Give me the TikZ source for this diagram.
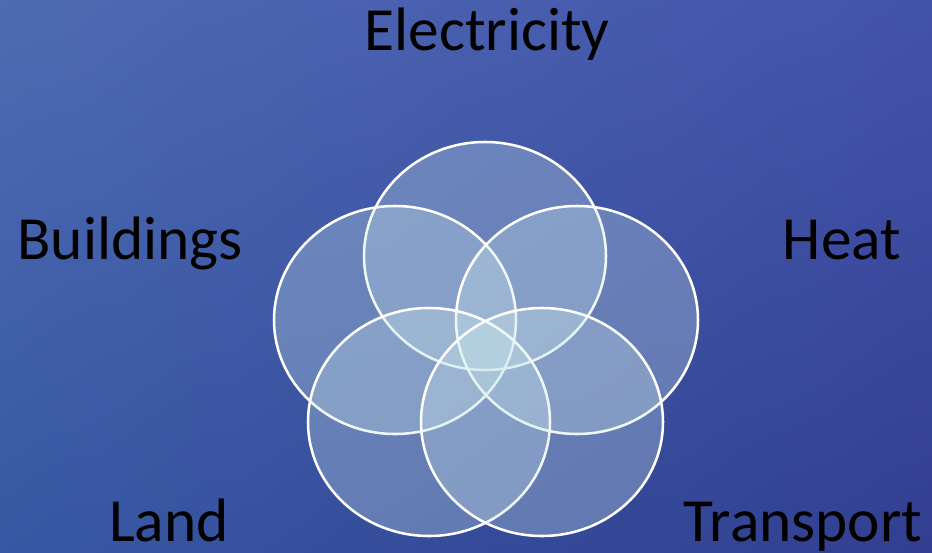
\documentclass[tikz,border=0pt]{standalone}
\usepackage{fontspec}
\setmainfont{Carlito}

\definecolor{petalfill}{RGB}{205,232,236}

% sea backdrop: four corner colours, mixed bilinearly
\pgfdeclarefunctionalshading{seawater}{\pgfpoint{0bp}{0bp}}{\pgfpoint{100bp}{100bp}}{}{
  100 div exch 100 div
  2 copy mul
  2 index 0.197 mul 2 index -0.019 mul add 1 index -0.079 mul add 0.176 add
  3 index 0.157 mul 3 index -0.196 mul add 2 index 0.000 mul add 0.353 add
  4 index 0.098 mul 4 index -0.176 mul add 3 index 0.137 mul add 0.647 add
  6 3 roll pop pop pop
}

\tikzset{
  petal/.style={draw=white, line width=1.9pt, fill=petalfill, fill opacity=0.3},
  sector/.style={font=\fontsize{46}{50}\selectfont, text=black, anchor=base, inner sep=0pt}
}

\begin{document}
\begin{tikzpicture}[x=0.75pt, y=-0.75pt]

    \useasboundingbox (0,0) rectangle (932,553);
    \shade[shading=seawater] (0,0) rectangle (932,553);

    % five overlapping petals
    \foreach \cx/\cy in {485/256, 395/320, 577/320, 429/422, 542/422}
        \draw[petal] (\cx,\cy) ellipse [x radius=121, y radius=114];

    \node[sector] (electricity) at (487,50)  {Electricity};
    \node[sector] (buildings)   at (130,259) {Buildings};
    \node[sector] (heat)        at (842,259) {Heat};
    \node[sector] (land)        at (169,541) {Land};
    \node[sector] (transport)   at (803,541) {Transport};

\end{tikzpicture}
\end{document}
